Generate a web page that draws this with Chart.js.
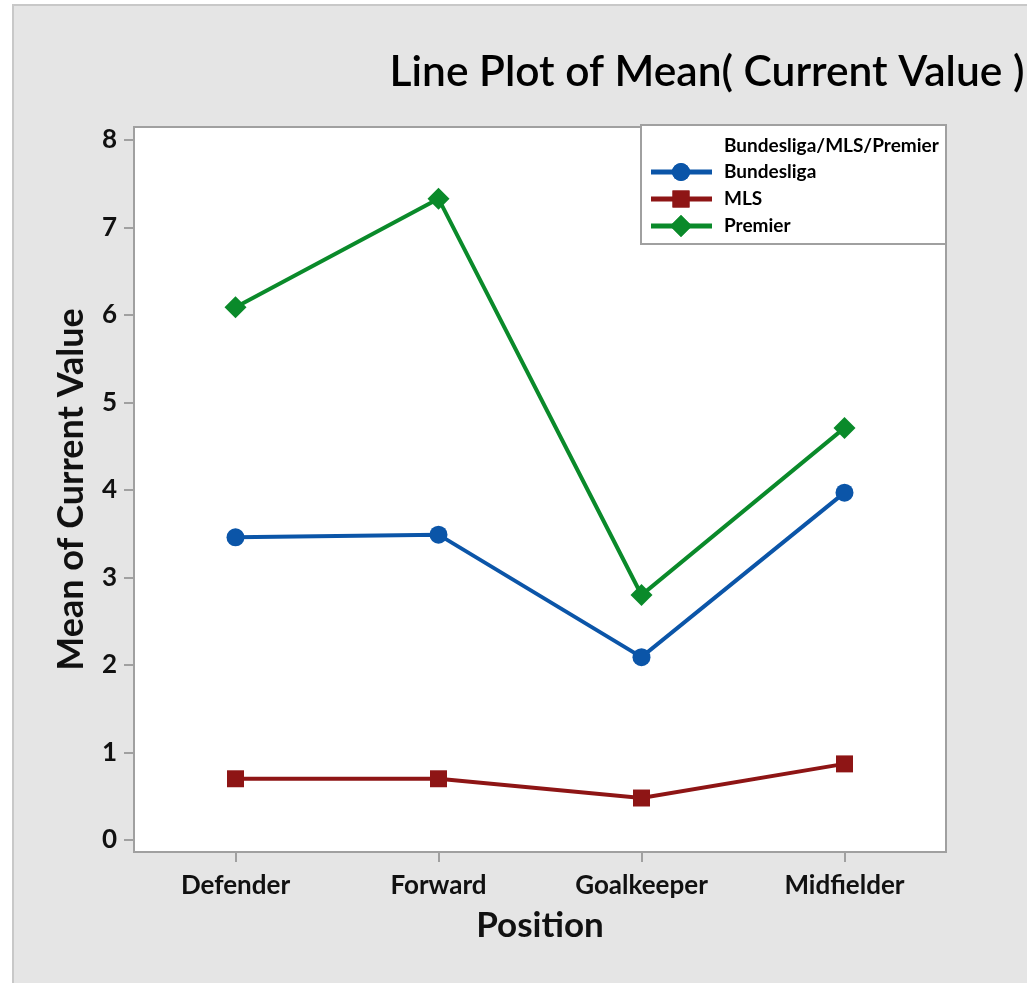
<!DOCTYPE html>
<html>
<head>
<meta charset="utf-8">
<script src="https://cdn.jsdelivr.net/npm/chart.js@4.4.1/dist/chart.umd.min.js"></script>
<style>
  html, body { margin: 0; padding: 0; background: #ffffff; }
  canvas { display: block; }
</style>
</head>
<body>
<canvas id="c" width="1027" height="983"></canvas>
<script>
// ---- data ----
const positions = ["Defender", "Forward", "Goalkeeper", "Midfielder"];
const bundesliga = [3.46, 3.49, 2.09, 3.97];
const mls = [0.70, 0.70, 0.48, 0.87];
const premier = [6.09, 7.33, 2.80, 4.71];
const yTicks = [0, 1, 2, 3, 4, 5, 6, 7, 8];
const chartTitle = "Line Plot of Mean( Current Value )";
const legendTitle = "Bundesliga/MLS/Premier";
const xTitle = "Position";
const yTitle = "Mean of Current Value";

const FONT = "Lato, 'Open Sans', sans-serif";
const BLUE = "#0b55a8", RED = "#8e1515", GREEN = "#0a8a2a";

const framePlugin = {
  id: "frame",
  beforeDraw(chart) {
    const ctx = chart.ctx;
    ctx.save();
    ctx.fillStyle = "#ffffff";
    ctx.fillRect(0, 0, chart.width, chart.height);
    ctx.fillStyle = "#e5e5e5";
    ctx.fillRect(12, 4, chart.width, chart.height);
    ctx.strokeStyle = "#c8c8c8";
    ctx.lineWidth = 2;
    ctx.beginPath();
    ctx.moveTo(13, chart.height);
    ctx.lineTo(13, 5);
    ctx.lineTo(chart.width, 5);
    ctx.stroke();
    const a = chart.chartArea;
    ctx.fillStyle = "#ffffff";
    ctx.fillRect(a.left, a.top, a.right - a.left, a.bottom - a.top);
    ctx.restore();
  },
  afterDatasetsDraw(chart) {
    const ctx = chart.ctx;
    const a = chart.chartArea;
    ctx.save();
    ctx.strokeStyle = "#a0a0a0";
    ctx.lineWidth = 2;
    ctx.strokeRect(a.left, a.top, a.right - a.left, a.bottom - a.top);
    // title
    ctx.fillStyle = "#000";
    ctx.font = "600 42.5px " + FONT;
    ctx.textAlign = "center";
    ctx.textBaseline = "middle";
    ctx.fillText(chartTitle, 707, 72);
    // legend box
    const lx = 641, ly = 125, lw = 305, lh = 119;
    ctx.fillStyle = "#ffffff";
    ctx.fillRect(lx, ly, lw, lh);
    ctx.strokeStyle = "#a0a0a0";
    ctx.strokeRect(lx, ly, lw, lh);
    ctx.fillStyle = "#000";
    ctx.textAlign = "left";
    ctx.font = "bold 19px " + FONT;
    ctx.fillText(legendTitle, 724, 146);
    chart.data.datasets.forEach((ds, i) => {
      const y = 172 + i * 27;
      ctx.strokeStyle = ds.borderColor;
      ctx.lineWidth = 5;
      ctx.beginPath();
      ctx.moveTo(651, y);
      ctx.lineTo(712, y);
      ctx.stroke();
      ctx.fillStyle = ds.backgroundColor;
      Chart.helpers.drawPoint(ctx, {pointStyle: ds.pointStyle, radius: ds.pointRadius, borderWidth: 0}, 681, y);
      ctx.fill();
      ctx.fillStyle = "#000";
      ctx.fillText(ds.label, 724, y);
    });
    ctx.restore();
  }
};

new Chart(document.getElementById("c"), {
  type: "line",
  data: {
    labels: positions,
    datasets: [
      { label: "Bundesliga", data: bundesliga, borderColor: BLUE, backgroundColor: BLUE,
        pointStyle: "circle", pointRadius: 9, borderWidth: 4, pointBorderWidth: 0 },
      { label: "MLS", data: mls, borderColor: RED, backgroundColor: RED,
        pointStyle: "rect", pointRadius: 12, borderWidth: 4, pointBorderWidth: 0 },
      { label: "Premier", data: premier, borderColor: GREEN, backgroundColor: GREEN,
        pointStyle: "rectRot", pointRadius: 11, borderWidth: 4, pointBorderWidth: 0 }
    ]
  },
  options: {
    responsive: false,
    devicePixelRatio: 1,
    animation: false,
    layout: { padding: { left: 0, top: 127, right: 81, bottom: 0 } },
    plugins: { legend: { display: false }, title: { display: false }, tooltip: { enabled: false } },
    elements: { line: { tension: 0 } },
    scales: {
      x: {
        type: "category",
        offset: true,
        grid: { drawOnChartArea: false, drawTicks: true, tickLength: 10, color: "#a0a0a0", lineWidth: 2, offset: false },
        border: { display: false },
        ticks: { color: "#111", font: { family: FONT, size: 26, weight: "bold" }, padding: 8, maxRotation: 0 },
        title: { display: true, text: xTitle, color: "#111", font: { family: FONT, size: 35, weight: "bold" }, padding: { top: 0, bottom: 36 } },
        afterFit(s) { s.height = 131; }
      },
      y: {
        type: "linear",
        min: -0.137,
        max: 8.149,
        afterBuildTicks(s) { s.ticks = yTicks.map(v => ({ value: v })); },
        grid: { drawOnChartArea: false, drawTicks: true, tickLength: 10, color: "#a0a0a0", lineWidth: 2 },
        border: { display: false },
        ticks: { color: "#111", font: { family: FONT, size: 26, weight: "bold" }, padding: 7 },
        title: { display: true, text: yTitle, color: "#111", font: { family: FONT, size: 36, weight: "bold" }, padding: { top: 50, bottom: 0 } },
        afterFit(s) { s.width = 134; }
      }
    }
  },
  plugins: [framePlugin]
});
</script>
</body>
</html>
